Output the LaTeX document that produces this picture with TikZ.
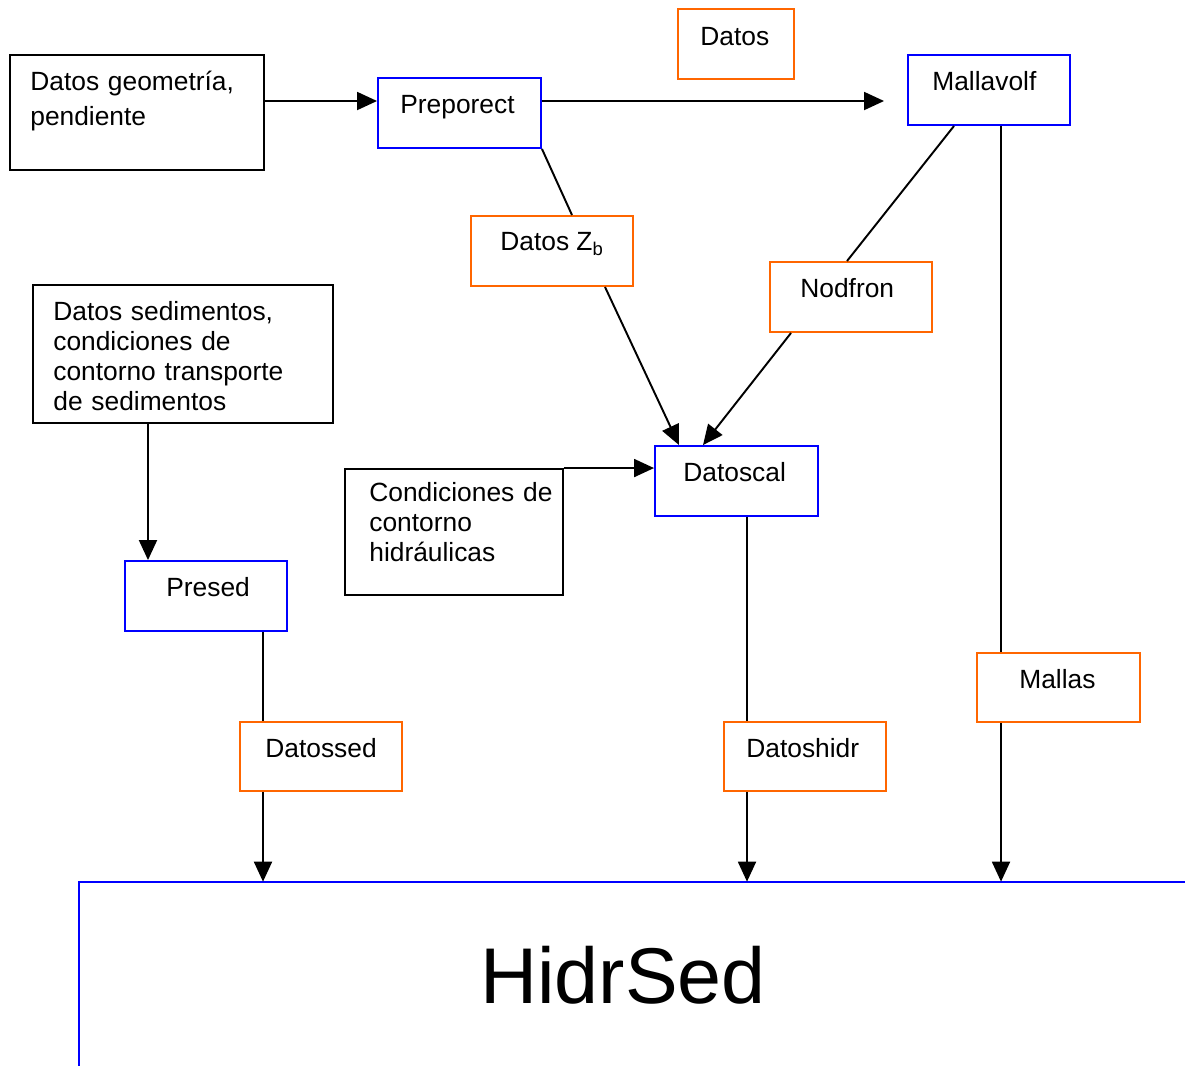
\documentclass[tikz,border=0pt]{standalone}
\usepackage{fontspec}
\setmainfont{Liberation Sans}
\usepackage{tikz}
\usetikzlibrary{arrows.meta, fit, positioning}
\definecolor{azul}{RGB}{0,0,255}
\definecolor{naranja}{RGB}{255,102,0}
\tikzstyle{fleche} = [-{Triangle[length=0.4cm,width=0.36cm]},line width=1.1pt]
\tikzstyle{trait} = [line width=1.1pt]
\tikzstyle{caja} = [draw=black,line width=1.1pt,inner sep=0pt]
\tikzstyle{cajaazul} = [draw=azul,line width=1.1pt,inner sep=0pt]
\tikzstyle{cajanar} = [draw=naranja,line width=1.1pt,inner sep=0pt]
\tikzstyle{texto} = [inner sep=0pt,anchor=base west,align=left]

\begin{document}
\begin{tikzpicture}[x=0.02cm,y=-0.02cm,font=\fontsize{15}{17.1}\selectfont]

	\useasboundingbox (0,0) rectangle (1185,1066);

	% cajas de datos
	\node[caja, fit={(10,55) (264,170)}] (geo) {};
	\node[texto, text width=4.6cm] (geot) at (30,90.5) {Datos geometría,\\[0.1cm]pendiente};

	\node[caja, fit={(33,285) (333,423)}] (sed) {};
	\node[texto, text width=5.6cm] (sedt) at (53,320.5) {Datos sedimentos,\\condiciones de\\contorno transporte\\de sedimentos};

	\node[caja, fit={(345,469) (563,595)}] (cond) {};
	\node[texto, text width=4cm] (condt) at (369,501) {Condiciones de\\contorno\\hidráulicas};

	% programas
	\node[cajaazul, fit={(378,78) (541,148)}] (prep) {};
	\node[texto] (prept) at (400,113) {Preporect};

	\node[cajaazul, fit={(908,55) (1070,125)}] (mv) {};
	\node[texto] (mvt) at (932,90) {Mallavolf};

	\node[cajaazul, fit={(655,446) (818,516)}] (dcal) {};
	\node[texto] (dcalt) at (683,481) {Datoscal};

	\node[cajaazul, fit={(125,561) (287,631)}] (pres) {};
	\node[texto] (prest) at (166,596) {Presed};

	% ficheros
	\node[cajanar, fit={(678,9) (794,79)}] (dat) {};
	\node[texto] (datt) at (700,45) {Datos};

	\node[cajanar, fit={(471,216) (633,286)}] (dzb) {};
	\node[texto] (dzbt) at (500,250.5) {Datos Z\textsubscript{b}};

	\node[cajanar, fit={(770,262) (932,332)}] (nod) {};
	\node[texto] (nodt) at (800,297) {Nodfron};

	\node[cajanar, fit={(977,653) (1140,722)}] (mal) {};
	\node[texto] (malt) at (1019,688) {Mallas};

	\node[cajanar, fit={(240,722) (402,791)}] (dsed) {};
	\node[texto] (dsedt) at (265,757) {Datossed};

	\node[cajanar, fit={(724,722) (886,791)}] (dhid) {};
	\node[texto] (dhidt) at (746,757) {Datoshidr};

	% HidrSed
	\node[inner sep=0pt, fit={(79,882) (1185,1066)}] (hs) {};
	\draw[azul, line width=1.1pt] (hs.north east) -- (hs.north west) -- (hs.south west);
	\node[inner sep=0pt, anchor=base, font=\fontsize{45}{52}\selectfont] (hst) at (623,1003) {HidrSed};

	% conexiones
	\draw[fleche] (geo.east |- 0,101) -- (prep.west |- 0,101);
	\draw[fleche] (prep.east |- 0,101) -- ([xshift=-0.46cm]mv.west |- 0,101);

	\draw[trait] (prep.south east) -- (dzb.north -| 572,0);
	\draw[fleche] (dzb.south -| 605,0) -- (dcal.north -| 679,0);

	\draw[trait] (mv.south -| 954,0) -- (nod.north -| 847,0);
	\draw[fleche] (nod.south -| 791,0) -- (dcal.north -| 703,0);

	\draw[fleche] (cond.north east) -- (dcal.west |- cond.north east);

	\draw[fleche] (sed.south -| 148,0) -- (pres.north -| 148,0);

	\draw[trait] (pres.south -| 263,0) -- (dsed.north -| 263,0);
	\draw[fleche] (dsed.south -| 263,0) -- (hs.north -| 263,0);

	\draw[trait] (dcal.south -| 747,0) -- (dhid.north -| 747,0);
	\draw[fleche] (dhid.south -| 747,0) -- (hs.north -| 747,0);

	\draw[trait] (mv.south -| 1001,0) -- (mal.north -| 1001,0);
	\draw[fleche] (mal.south -| 1001,0) -- (hs.north -| 1001,0);

\end{tikzpicture}
\end{document}
